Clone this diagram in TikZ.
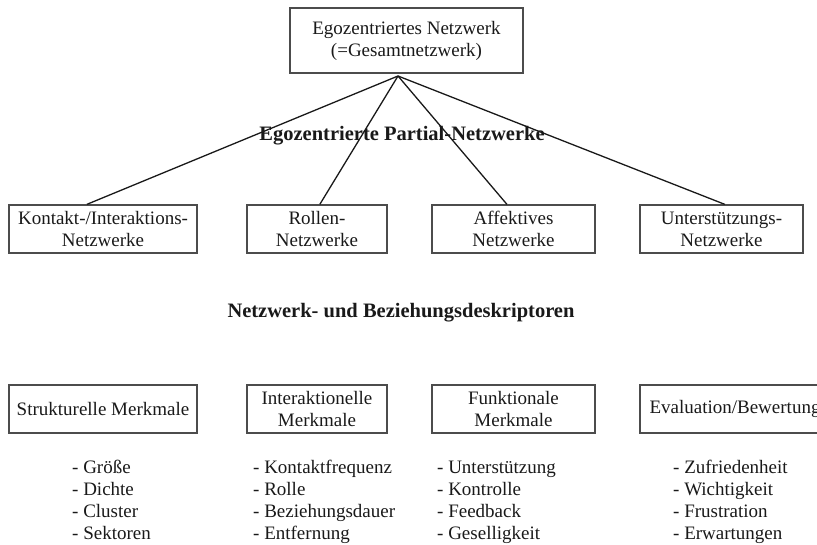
\documentclass[tikz,border=0pt]{standalone}
\usepackage{fontspec}
\setmainfont{Liberation Serif}
\usetikzlibrary{calc}
\newcommand{\txtsize}{\fontsize{19}{22}\selectfont}
\newcommand{\headsize}{\fontsize{20.5}{24}\selectfont}
\definecolor{ink}{gray}{0.1}
\definecolor{frame}{gray}{0.3}

\begin{document}
\begin{tikzpicture}[x=1pt, y=-1pt,
    netbox/.style={draw=frame, line width=1.3pt, align=center, inner sep=0pt, text=ink, font=\txtsize},
    heading/.style={inner sep=0pt, text=ink, font=\bfseries\headsize},
    itemlist/.style={anchor=base west, align=left, inner sep=0pt, text=ink, font=\txtsize},
    link/.style={draw=ink, line width=1.3pt}]
      \useasboundingbox (0,0) rectangle (817,544);

      % whole network
      \node[netbox, minimum width=233, minimum height=65] (ego) at (406.5,40.5) {Egozentriertes Netzwerk\\(=Gesamtnetzwerk)};

      % partial networks
      \node[netbox, minimum width=188, minimum height=48] (kontakt) at (103,229) {Kontakt-/Interaktions-\\Netzwerke};
      \node[netbox, minimum width=140, minimum height=48] (rollen) at (317,229) {Rollen-\\Netzwerke};
      \node[netbox, minimum width=163, minimum height=48] (affektiv) at (513.5,229) {Affektives\\Netzwerke};
      \node[netbox, minimum width=163, minimum height=48] (support) at (721.5,229) {Unterstützungs-\\Netzwerke};

      % fan out from the whole network
      \coordinate (apex) at (398,76);
      \draw[link] (apex) -- ($(kontakt.north west)!0.415!(kontakt.north east)$);
      \draw[link] (apex) -- ($(rollen.north west)!0.52!(rollen.north east)$);
      \draw[link] (apex) -- ($(affektiv.north west)!0.46!(affektiv.north east)$);
      \draw[link] (apex) -- ($(support.north west)!0.52!(support.north east)$);

      % headings
      \node[heading] (partial) at (402,136) {Egozentrierte Partial-Netzwerke};
      \node[heading] (deskriptor) at (401,313) {Netzwerk- und Beziehungsdeskriptoren};

      % descriptor boxes
      \node[netbox, minimum width=188, minimum height=48] (struktur) at (103,409) {Strukturelle Merkmale};
      \node[netbox, minimum width=140, minimum height=48] (interakt) at (317,409) {Interaktionelle\\Merkmale};
      \node[netbox, minimum width=163, minimum height=48] (funktion) at (513.5,409) {Funktionale\\Merkmale};
      \node[netbox, minimum width=190, minimum height=48] (bewertung) at (735,409) {Evaluation/Bewertung};

      % descriptor lists (base = last line)
      \node[itemlist] (strukturlist) at (72,539) {- Größe\\- Dichte\\- Cluster\\- Sektoren};
      \node[itemlist] (interaktlist) at (253,539) {- Kontaktfrequenz\\- Rolle\\- Beziehungsdauer\\- Entfernung};
      \node[itemlist] (funktionlist) at (437,539) {- Unterstützung\\- Kontrolle\\- Feedback\\- Geselligkeit};
      \node[itemlist] (bewertunglist) at (673,539) {- Zufriedenheit\\- Wichtigkeit\\- Frustration\\- Erwartungen};
\end{tikzpicture}
\end{document}
